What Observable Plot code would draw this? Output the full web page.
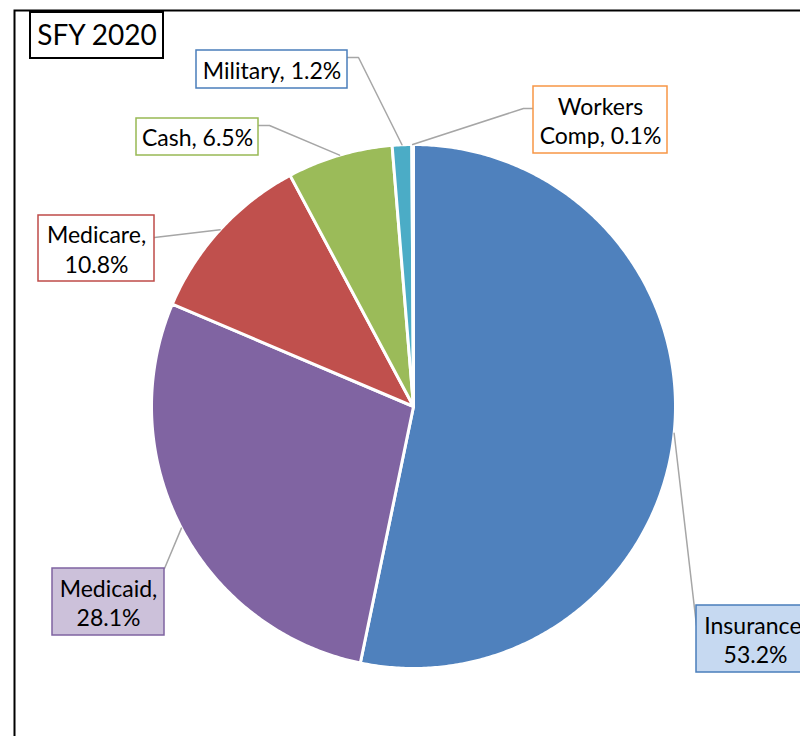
<!DOCTYPE html>
<html><head><meta charset="utf-8">
<script src="https://cdn.jsdelivr.net/npm/d3@7"></script>
<script src="https://cdn.jsdelivr.net/npm/@observablehq/plot@0.6"></script>
<style>
html,body{margin:0;padding:0;background:#fff;overflow:hidden;}
#chart svg{overflow:hidden;display:block;}
</style></head><body><div id="chart"></div>
<script>
// ---- data ----
const categories = ["Insurance", "Medicaid", "Medicare", "Cash", "Military", "Workers Comp"];
const shares = [53.2, 28.1, 10.8, 6.5, 1.2, 0.1];
const labelTexts = ["Insurance,\n53.2%", "Medicaid,\n28.1%", "Medicare,\n10.8%", "Cash, 6.5%", "Military, 1.2%", "Workers\nComp, 0.1%"];
const chartTitle = "SFY 2020";

// ---- styles ----
const sliceColors = ["#4F81BD", "#8064A2", "#C0504D", "#9BBB59", "#4BACC6", "#F79646"];
const boxStroke = ["#4A7EBB", "#7F63A1", "#BE4B48", "#98B954", "#4A7EBB", "#F79646"];
const boxFill = ["#C6D9F1", "#CCC1DA", "#FFFFFF", "#FFFFFF", "#FFFFFF", "#FFFFFF"];

// ---- layout (pixels) ----
const W = 800, H = 736, CX = 413, CY = 406, R = 262;
const labelBoxes = [[696, 605, 814, 672], [52, 568, 164, 635], [38, 215, 154, 281], [136, 118, 258, 155], [196, 50, 347, 88], [533, 86, 667, 153]];
const leaderStarts = [[[696, 625]], [[164, 568]], [[154, 237]], [[258, 125], [269, 125]], [[347, 57], [358, 57]], [[533, 108], [523, 108]]];
const titleBox = [30, 12, 163, 58];

// ---- derived geometry ----
const total = d3.sum(shares);
const pt = a => [CX + R * Math.sin(a), CY - R * Math.cos(a)];
const sliceRows = [];
const leaderRows = [];
let cum = 0;
categories.forEach((name, i) => {
  const a0 = cum / total * 2 * Math.PI;
  cum += shares[i];
  const a1 = cum / total * 2 * Math.PI;
  sliceRows.push({name, x: CX, y: CY});
  const n = Math.max(2, Math.ceil((a1 - a0) / (Math.PI / 360)));
  for (let k = 0; k <= n; k++) {
    const [x, y] = pt(a0 + (a1 - a0) * k / n);
    sliceRows.push({name, x, y});
  }
  leaderStarts[i].forEach(([x, y]) => leaderRows.push({name, x, y}));
  const [mx, my] = pt((a0 + a1) / 2);
  leaderRows.push({name, x: mx, y: my});
});
const labelRows = categories.map((name, i) => {
  const [x1, y1, x2, y2] = labelBoxes[i];
  return {name, x1, y1, x2, y2, cx: (x1 + x2) / 2, cy: (y1 + y2) / 2, text: labelTexts[i], fill: boxFill[i], stroke: boxStroke[i]};
});

const font = "Lato, 'Open Sans', sans-serif";
const plot = Plot.plot({
  width: W, height: H,
  marginLeft: 14, marginTop: 10, marginRight: -10, marginBottom: -10,
  x: {domain: [0, W], range: [0, W], axis: null},
  y: {domain: [0, H], range: [0, H], axis: null},
  color: {domain: categories, range: sliceColors},
  style: {fontFamily: font, background: "white"},
  marks: [
    Plot.frame({stroke: "black", strokeWidth: 2}),
    Plot.line(sliceRows, {x: "x", y: "y", z: "name", fill: "name", stroke: "white", strokeWidth: 3, curve: "linear-closed", strokeLinejoin: "round"}),
    Plot.line(leaderRows, {x: "x", y: "y", z: "name", stroke: "#A6A6A6", strokeWidth: 1.5}),
    ...labelRows.map(d => Plot.rect([d], {x1: "x1", x2: "x2", y1: "y1", y2: "y2", fill: d.fill, stroke: d.stroke, strokeWidth: 1.5})),
    Plot.text(labelRows, {x: "cx", y: "cy", text: "text", fontSize: 23, lineHeight: 1.28, fill: "black", fontFamily: font}),
    Plot.rect([{x1: titleBox[0], y1: titleBox[1], x2: titleBox[2], y2: titleBox[3]}], {x1: "x1", x2: "x2", y1: "y1", y2: "y2", fill: "white", stroke: "black", strokeWidth: 2}),
    Plot.text([chartTitle], {x: (titleBox[0] + titleBox[2]) / 2, y: (titleBox[1] + titleBox[3]) / 2 + 1, text: d => d, fontSize: 28, fill: "black", fontFamily: font})
  ]
});
document.getElementById("chart").appendChild(plot);
</script>
</body></html>
